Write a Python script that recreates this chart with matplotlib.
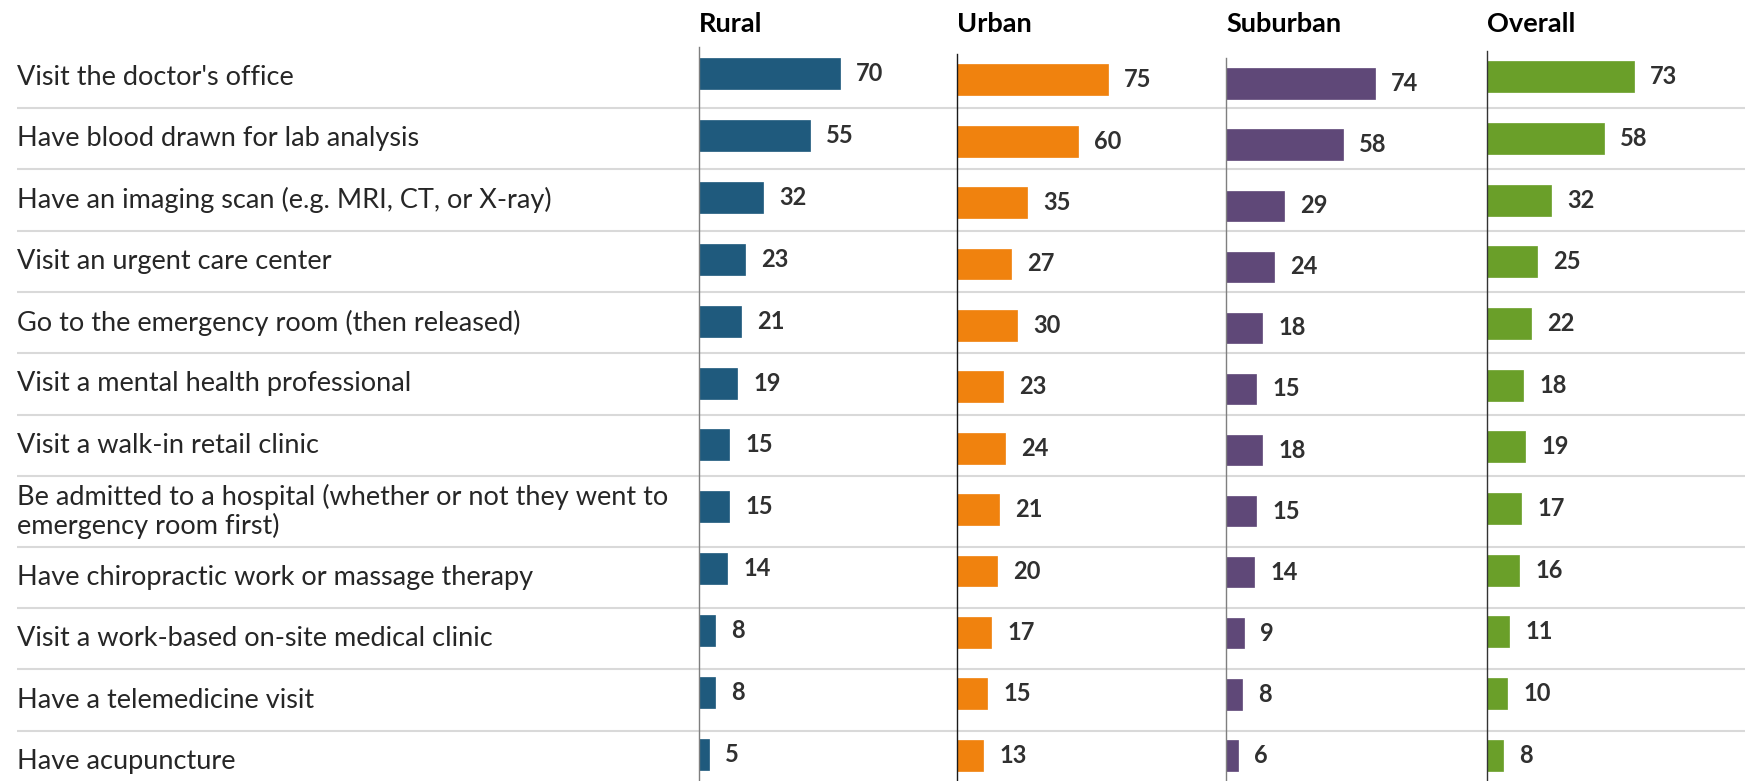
import matplotlib
matplotlib.use("Agg")
import matplotlib.pyplot as plt
import numpy as np

activities = [
    "Visit the doctor's office",
    "Have blood drawn for lab analysis",
    "Have an imaging scan (e.g. MRI, CT, or X-ray)",
    "Visit an urgent care center",
    "Go to the emergency room (then released)",
    "Visit a mental health professional",
    "Visit a walk-in retail clinic",
    "Be admitted to a hospital (whether or not they went to\nemergency room first)",
    "Have chiropractic work or massage therapy",
    "Visit a work-based on-site medical clinic",
    "Have a telemedicine visit",
    "Have acupuncture",
]
groups = ["Rural", "Urban", "Suburban", "Overall"]
rural = [70, 55, 32, 23, 21, 19, 15, 15, 14, 8, 8, 5]
urban = [75, 60, 35, 27, 30, 23, 24, 21, 20, 17, 15, 13]
suburban = [74, 58, 29, 24, 18, 15, 18, 15, 14, 9, 8, 6]
overall = [73, 58, 32, 25, 22, 18, 19, 17, 16, 11, 10, 8]

colors = ["#1f5a7d", "#f0820e", "#5f4878", "#6a9f29"]
spine_colors = ["#7f7f7f", "#1a1a1a", "#7f7f7f", "#333333"]

W, H = 1745, 781
FONT = "Lato"
TEXT = "#262626"
plt.rcParams["font.family"] = [FONT, "DejaVu Sans"]

fig = plt.figure(figsize=(W / 100, H / 100), dpi=100)

# background: row labels and separators, in pixel coords
bg = fig.add_axes([0, 0, 1, 1])
bg.set_xlim(0, W)
bg.set_ylim(H, 0)
bg.axis("off")

row_top = 46.7
base_h, extra_h = 61.3, 9.7
y = row_top
for i, label in enumerate(activities):
    h = base_h + extra_h * label.count("\n")
    bg.text(17, y + h / 2, label, ha="left", va="center", fontsize=19.5,
            color=TEXT, linespacing=1.15)
    y += h
    if i < len(activities) - 1:
        bg.plot([17, W], [y, y], color="#d9d9d9", lw=1.5, solid_capstyle="butt")

# panels
panel_left = [699, 957, 1226, 1487]
panel_top = [47, 54, 58, 51]
panel_w = 240
px_per_unit = 2.01
series = [rural, urban, suburban, overall]
n = len(activities)
yy = np.arange(n)

for name, vals, col, scol, left, top in zip(groups, series, colors, spine_colors, panel_left, panel_top):
    ax = fig.add_axes([left / W, 0, panel_w / W, (H - top) / H])
    ax.patch.set_alpha(0)
    ax.barh(yy, vals, height=0.5, color=col, edgecolor=col, linewidth=0.5)
    for yi, v in zip(yy, vals):
        ax.annotate(str(v), (v, yi), xytext=(11.5, 0), textcoords="offset points",
                    ha="left", va="center", fontsize=17, fontweight="bold", color="#303030")
    ax.set_xlim(0, panel_w / px_per_unit)
    ax.set_ylim(n - 1 + 0.42, -0.42)
    for s in ["top", "right", "bottom"]:
        ax.spines[s].set_visible(False)
    ax.spines["left"].set_color(scol)
    ax.spines["left"].set_linewidth(1.0)
    ax.set_xticks([])
    ax.set_yticks([])
    fig.text(left / W, 1 - 24 / H, name, ha="left", va="center",
             fontsize=19.5, fontweight="bold", color="#000000")

fig.savefig("out.png", dpi=100)
